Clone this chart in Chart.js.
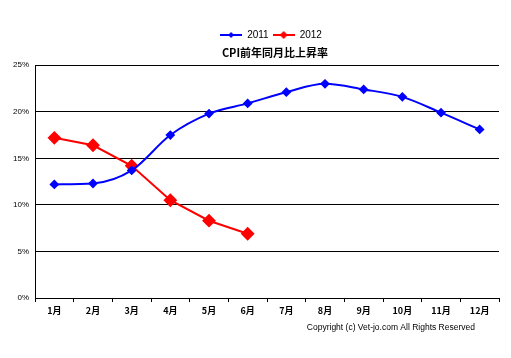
<!DOCTYPE html>
<html><head><meta charset="utf-8">
<script src="https://cdn.jsdelivr.net/npm/chart.js@4/dist/chart.umd.min.js"></script>
<style>html,body{margin:0;padding:0;background:#fff;}#wrap{width:511px;height:358px;position:relative;}</style>
</head><body><div id="wrap"><canvas id="c" width="511" height="358"></canvas></div>
<script>
const categories = ['1月','2月','3月','4月','5月','6月','7月','8月','9月','10月','11月','12月'];
const series2011 = [12.2, 12.3, 13.7, 17.5, 19.8, 20.9, 22.1, 23.0, 22.4, 21.6, 19.9, 18.1];
const series2012 = [17.2, 16.4, 14.2, 10.5, 8.3, 6.9];
const yTicks = [0, 5, 10, 15, 20, 25];
const titleText = 'CPI前年同月比上昇率';
const copyrightText = 'Copyright (c) Vet-jo.com All Rights Reserved';

function legendIcon(color, r) {
  const cv = document.createElement('canvas');
  cv.width = 22; cv.height = 12;
  const g = cv.getContext('2d');
  g.strokeStyle = color; g.lineWidth = 2;
  g.beginPath(); g.moveTo(0, 6); g.lineTo(22, 6); g.stroke();
  g.fillStyle = color;
  g.beginPath(); g.moveTo(11, 6 - r); g.lineTo(11 + r, 6); g.lineTo(11, 6 + r); g.lineTo(11 - r, 6); g.closePath(); g.fill();
  return cv;
}
const icons = [legendIcon('#0000ff', 3), legendIcon('#ff0000', 4)];

const shiftPlugin = {
  id: 'shiftBoxes',
  afterLayout(chart) {
    if (chart.legend) { chart.legend.left += 18; chart.legend.right += 18; }
    if (chart.titleBlock) { chart.titleBlock.left += 22; chart.titleBlock.right += 22; }
    chart.boxes.forEach(b => {
      if (b.options && b.options.text === copyrightText) { b.left -= 24; b.right -= 24; }
    });
  }
};

new Chart(document.getElementById('c'), {
  type: 'line',
  data: {
    labels: categories,
    datasets: [
      { label: '2011', data: series2011, borderColor: '#0000ff', backgroundColor: '#0000ff', borderWidth: 2,
        pointStyle: 'rectRot', pointRadius: 3.5, pointHoverRadius: 3.5, cubicInterpolationMode: 'monotone' },
      { label: '2012', data: series2012, borderColor: '#ff0000', backgroundColor: '#ff0000', borderWidth: 2,
        pointStyle: 'rectRot', pointRadius: 5.5, pointHoverRadius: 5.5, tension: 0 }
    ]
  },
  plugins: [shiftPlugin],
  options: {
    responsive: false, animation: false,
    layout: { padding: { left: 7, right: 12, top: 26, bottom: 25 } },
    plugins: {
      legend: {
        position: 'top', weight: 3000,
        labels: {
          usePointStyle: true, pointStyleWidth: 22, boxHeight: 10, padding: 4,
          color: '#000', font: { family: 'Liberation Sans', size: 10 },
          generateLabels: (chart) => chart.data.datasets.map((d, i) => ({
            text: d.label, pointStyle: icons[i], fillStyle: d.borderColor, strokeStyle: d.borderColor,
            lineWidth: 0, datasetIndex: i, fontColor: '#000'
          }))
        }
      },
      title: {
        display: true, text: titleText, color: '#000', weight: 500,
        font: { family: 'Noto Sans CJK JP', size: 11, weight: 'bold' },
        padding: { top: -4, bottom: 6 }
      },
      subtitle: {
        display: true, text: copyrightText, position: 'bottom', align: 'end', color: '#000',
        font: { family: 'Liberation Sans', size: 8.5 }, padding: { top: 4, bottom: 0 }
      },
      tooltip: { enabled: false }
    },
    scales: {
      x: {
        offset: true,
        grid: { display: true, drawOnChartArea: false, drawTicks: true, tickLength: 4, color: '#000', offset: true },
        border: { color: '#000', width: 1 },
        ticks: { color: '#000', font: { family: 'Noto Sans CJK JP', size: 9, weight: 'bold' }, padding: 3, maxRotation: 0 }
      },
      y: {
        min: 0, max: 25,
        afterBuildTicks: (axis) => { axis.ticks = yTicks.map(v => ({ value: v })); },
        grid: { color: '#000', lineWidth: 1, drawTicks: false },
        border: { color: '#000', width: 1 },
        ticks: { color: '#000', font: { family: 'Liberation Sans', size: 8 }, padding: 6, callback: (v) => v + '%' }
      }
    }
  }
});
</script></body></html>
